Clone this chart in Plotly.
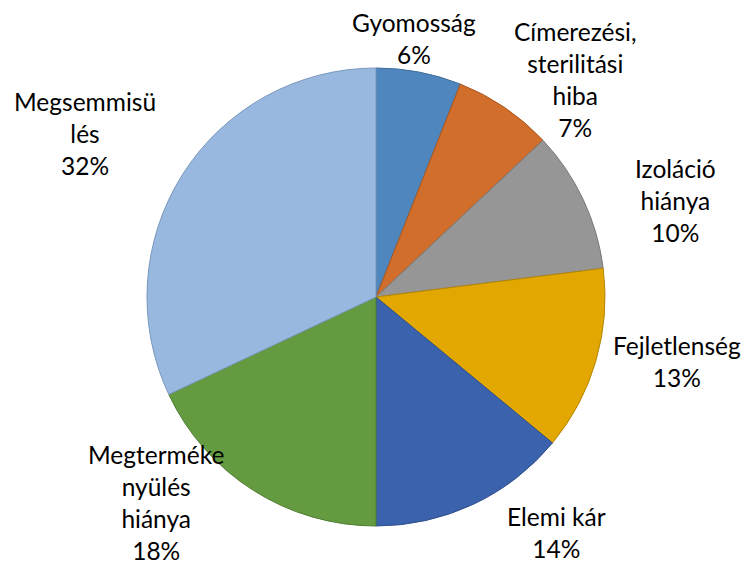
import plotly.graph_objects as go

categories = ["Gyomosság", "Címerezési,<br>sterilitási<br>hiba", "Izoláció<br>hiánya",
              "Fejletlenség", "Elemi kár", "Megterméke<br>nyülés<br>hiánya", "Megsemmisü<br>lés"]
values = [6, 7, 10, 13, 14, 18, 32]

fill_colors = ["#4F86BE", "#D26E2B", "#969696", "#E2A700", "#3B63AD", "#649B40", "#98B8DF"]
line_colors = ["#3F6C9C", "#A9581F", "#787878", "#B58600", "#2E4E8A", "#4F7C32", "#7A97BC"]

# label block centres (pixels from top-left), as placed by the original chart
label_pos = [(414, 38), (575, 79), (675, 200), (677, 361), (556, 532), (156, 502), (85, 133)]

W, H = 746, 564
cx, cy, R = 376, 297, 229

fig = go.Figure(go.Pie(
    labels=categories,
    values=values,
    sort=False,
    direction="clockwise",
    rotation=0,
    marker=dict(colors=fill_colors, line=dict(color=line_colors, width=1)),
    textinfo="none",
    domain=dict(x=[(cx - R) / W, (cx + R) / W], y=[(H - cy - R) / H, (H - cy + R) / H]),
    showlegend=False,
    hoverinfo="label+percent",
))

total = sum(values)
for cat, v, (px, py) in zip(categories, values, label_pos):
    fig.add_annotation(
        x=px / W, y=1 - py / H, xref="paper", yref="paper",
        xanchor="center", yanchor="middle",
        text=f"{cat}<br>{round(100 * v / total)}%",
        showarrow=False, align="center",
        font=dict(family="Lato", size=24.5, color="#000000"),
    )

fig.update_layout(
    width=W, height=H,
    margin=dict(l=0, r=0, t=0, b=0),
    paper_bgcolor="white",
    plot_bgcolor="white",
)

fig.write_html("out.html", config={"displayModeBar": False},
               post_script="document.body.style.margin='0';document.body.style.overflow='hidden';")
